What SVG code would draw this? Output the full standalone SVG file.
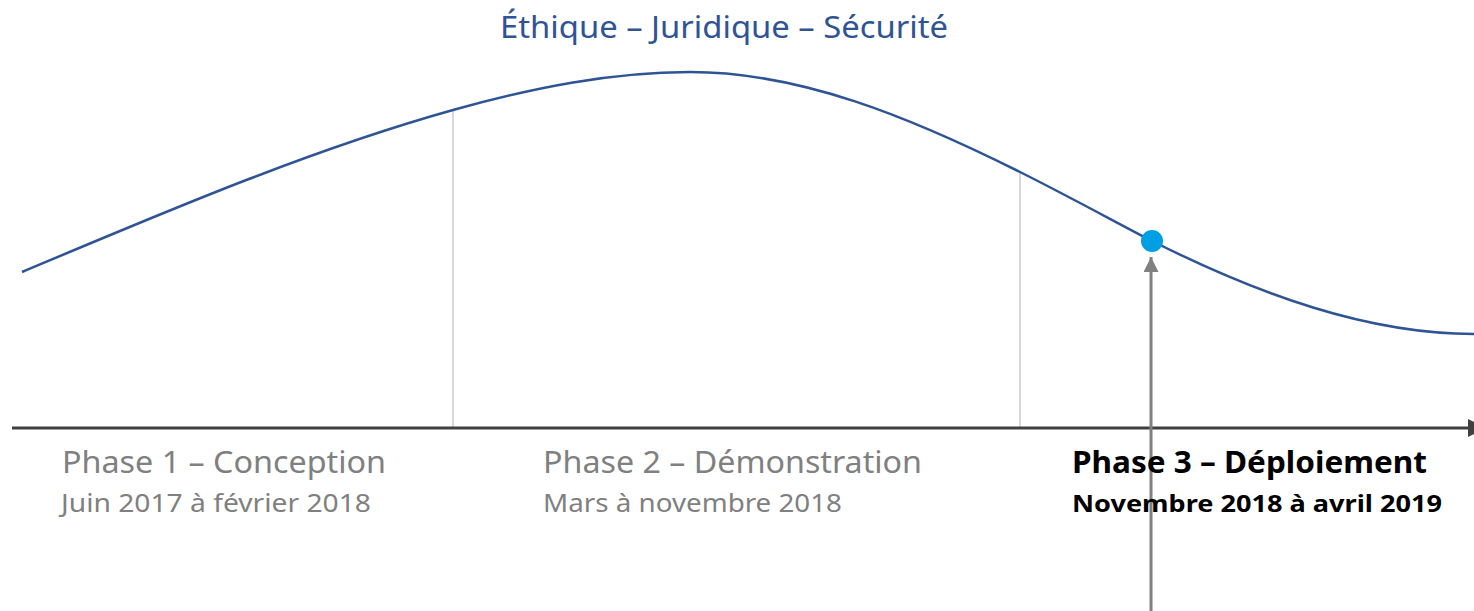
<svg xmlns="http://www.w3.org/2000/svg" width="1474" height="611" viewBox="0 0 1474 611">
<style>
.t{font-family:"Noto Sans","Open Sans",sans-serif}
.title{font-size:30px;fill:#2f5496}
.ph{font-size:30px;fill:#808080}
.dt{font-size:25px;fill:#808080}
.phb{font-size:30px;fill:#000;font-weight:bold}
.dtb{font-size:24px;fill:#000;font-weight:bold}
.sep{stroke:#bfbfbf;stroke-width:1.2;fill:none}
</style>
<defs>
<marker id="axh" viewBox="0 0 10 10" refX="10" refY="5" markerWidth="6" markerHeight="6" orient="auto" markerUnits="strokeWidth">
<path d="M0,0 L10,5 L0,10 z" fill="#404040"/>
</marker>
<marker id="ah" viewBox="0 0 10 10" refX="10" refY="5" markerWidth="5" markerHeight="5" orient="auto" markerUnits="strokeWidth">
<path d="M0,0 L10,5 L0,10 z" fill="#808080"/>
</marker>
</defs>
<rect width="1474" height="611" fill="#fff"/>
<g id="title"><text class="t title" x="500" y="38" textLength="448" lengthAdjust="spacingAndGlyphs">Éthique – Juridique – Sécurité</text></g>
<g id="separators">
<line class="sep" x1="453" y1="110" x2="453" y2="428"/>
<line class="sep" x1="1020" y1="172" x2="1020" y2="428"/>
</g>
<g id="curve">
<path d="M22,272 C166,211.5 309,150.3 453,110 C532,88 611,72 690,72 C800,72 910,117 1020,172 C1064,194 1108,218 1152,241 C1259,294.5 1367,334 1474,334" fill="none" stroke="#2f5496" stroke-width="2.5"/>
</g>
<g id="connectors">
<line x1="12" y1="428" x2="1486" y2="428" stroke="#404040" stroke-width="3" marker-end="url(#axh)"/>
<line x1="1151" y1="611" x2="1151" y2="257" stroke="#808080" stroke-width="3" marker-end="url(#ah)"/>
</g>
<g id="marker-dot"><circle cx="1152" cy="241" r="11" fill="#009fe3"/></g>
<g id="phase1">
<text class="t ph" x="62" y="473" textLength="324" lengthAdjust="spacingAndGlyphs">Phase 1 – Conception</text>
<text class="t dt" x="61" y="512" textLength="310" lengthAdjust="spacingAndGlyphs">Juin 2017 à février 2018</text>
</g>
<g id="phase2">
<text class="t ph" x="543" y="473" textLength="379" lengthAdjust="spacingAndGlyphs">Phase 2 – Démonstration</text>
<text class="t dt" x="543" y="512" textLength="299" lengthAdjust="spacingAndGlyphs">Mars à novembre 2018</text>
</g>
<g id="phase3">
<text class="t phb" x="1072" y="473" textLength="355" lengthAdjust="spacingAndGlyphs">Phase 3 – Déploiement</text>
<text class="t dtb" x="1072" y="512" textLength="370" lengthAdjust="spacingAndGlyphs">Novembre 2018 à avril 2019</text>
</g>
</svg>
